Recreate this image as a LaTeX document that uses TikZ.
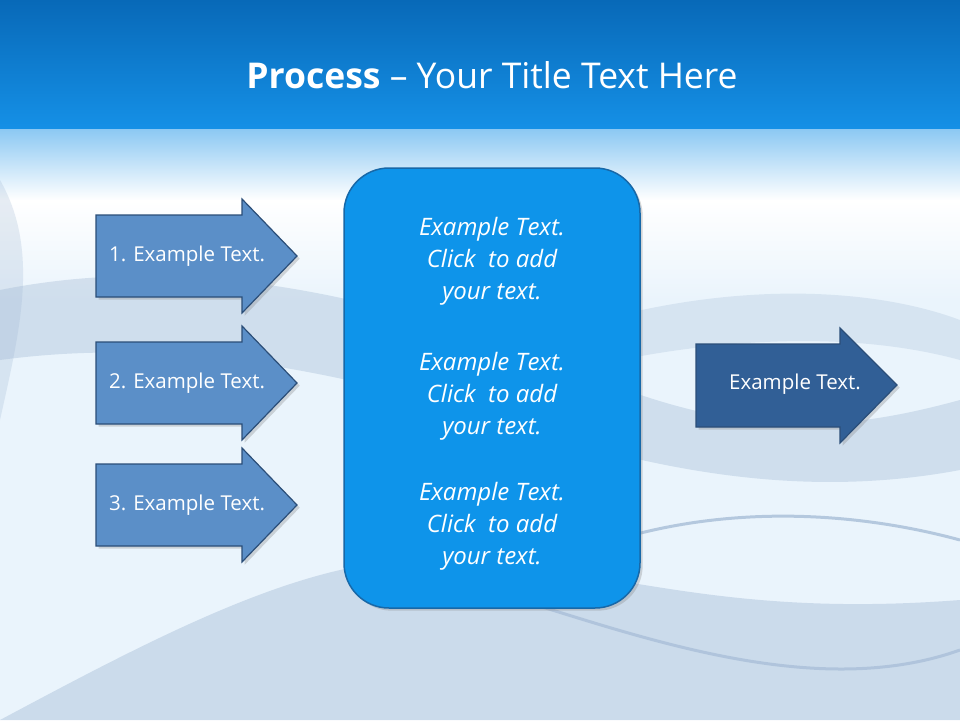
\documentclass[tikz,border=0pt]{standalone}
\usepackage{fontspec}
\setmainfont{Open Sans}
\usetikzlibrary{shapes.arrows,shadows}
\definecolor{bar1}{HTML}{0869B8}
\definecolor{bar2}{HTML}{1590E6}
\definecolor{arrL}{HTML}{5B8FC8}
\definecolor{arrLb}{HTML}{2B4E78}
\definecolor{arrR}{HTML}{315F96}
\definecolor{boxf}{HTML}{0E94EA}
\definecolor{boxb}{HTML}{1768A8}
\definecolor{swoosh}{HTML}{9EB6D2}
\definecolor{bgl}{HTML}{EAF4FC}
\tikzset{
  every picture/.style={x=1pt,y=-1pt},
  larrow/.style={draw=arrLb,line width=1.2pt,fill=arrL},
  rarrow/.style={draw=arrLb,line width=1.2pt,fill=arrR},
  lbl/.style={text=white,font=\fontsize{20.5}{22}\selectfont},
  boxtxt/.style={text=white,align=center,font=\fontsize{24}{32}\selectfont\itshape}
}
\begin{document}
\begin{tikzpicture}
\useasboundingbox (0,0) rectangle (960,720);
% background
\fill[bgl] (0,128) rectangle (960,720);
\shade[top color=bar2!50!white,bottom color=white] (0,128) rectangle (960,200);
\shade[top color=white,bottom color=bgl] (0,200) rectangle (960,300);
\fill[swoosh,opacity=0.35] (0,290) .. controls (200,250) and (400,300) .. (600,380) .. controls (750,440) and (850,430) .. (960,400) -- (960,470) .. controls (800,500) and (650,470) .. (500,420) .. controls (300,360) and (150,340) .. (0,360) -- cycle;
\fill[swoosh,opacity=0.4] (0,720) .. controls (150,640) and (300,560) .. (420,560) .. controls (600,560) and (700,620) .. (960,600) -- (960,720) -- cycle;
\fill[swoosh,opacity=0.25] (600,320) .. controls (750,280) and (880,290) .. (960,320) -- (960,360) .. controls (850,330) and (720,340) .. (620,360) -- cycle;
\draw[swoosh,opacity=0.7,line width=3pt] (560,560) .. controls (700,500) and (850,510) .. (960,540);
\draw[swoosh,opacity=0.6,line width=3pt] (520,600) .. controls (650,640) and (820,700) .. (960,650);
\fill[swoosh,opacity=0.25] (0,180) .. controls (40,250) and (20,330) .. (0,420) -- cycle;
% title bar
\shade[top color=bar1,bottom color=bar2] (0,0) rectangle (960,128);
\node[text=white,font=\fontsize{35.5}{40}\selectfont] (title) at (492,75) {\textbf{Process} – Your Title Text Here};
% left arrows
\foreach \i/\cy in {1/256,2/383,3/505}{
  \draw[larrow,drop shadow={opacity=0.3}] (96,\cy-41) -- (242,\cy-41) -- (242,\cy-57) -- (297,\cy) -- (242,\cy+57) -- (242,\cy+41) -- (96,\cy+41) -- cycle;
  \node[lbl] (a\i) at (187,\cy) {\i. Example Text.};
}
% right arrow
\draw[rarrow,drop shadow={opacity=0.3}] (696,344) -- (840,344) -- (840,328) -- (897,385) -- (840,443) -- (840,427) -- (696,427) -- cycle;
\node[lbl] (r) at (795,384) {Example Text.};
% central box
\draw[draw=boxb,line width=1.5pt,fill=boxf,rounded corners=45pt,drop shadow={opacity=0.3}] (344,168) rectangle (640,608);
\node[boxtxt] (t1) at (492,261) {Example Text.\\Click\ \ to add\\your text.};
\node[boxtxt] (t2) at (492,396) {Example Text.\\Click\ \ to add\\your text.};
\node[boxtxt] (t3) at (492,526) {Example Text.\\Click\ \ to add\\your text.};
\end{tikzpicture}
\end{document}
